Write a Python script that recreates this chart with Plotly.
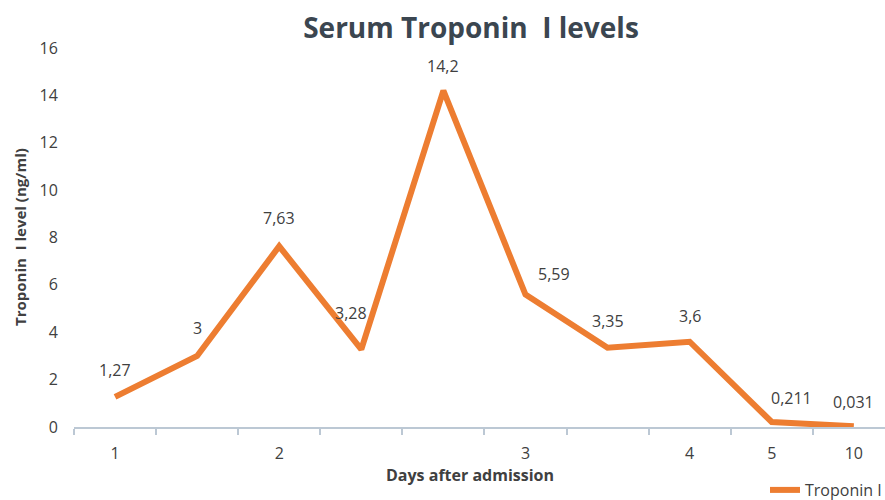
import plotly.graph_objects as go

categories = ["1", "", "2", "", "", "3", "", "4", "5", "10"]
values = [1.27, 3, 7.63, 3.28, 14.2, 5.59, 3.35, 3.6, 0.211, 0.031]
value_labels = ["1,27", "3", "7,63", "3,28", "14,2", "5,59", "3,35", "3,6", "0,211", "0,031"]
label_dx = [0, 0, 0, -10, 0, 29, 0, 0, 20, 0]
label_dy = [27, 28, 28, 36, 25, 21, 27, 26, 24, 24]
y_ticks = [0, 2, 4, 6, 8, 10, 12, 14, 16]

FONT = "Open Sans"
TXT = "#404040"
ORANGE = "#ED7D31"

xpos = list(range(len(values)))
tick_idx = [i for i, c in enumerate(categories) if c]
tick_txt = [categories[i] for i in tick_idx]

fig = go.Figure()
fig.add_trace(go.Scatter(
    x=xpos, y=values, mode="lines", name="Troponin I",
    line=dict(color=ORANGE, width=6),
))

for xi, v, t, dx, dy in zip(xpos, values, value_labels, label_dx, label_dy):
    fig.add_annotation(x=xi, y=v, text=t, showarrow=False, xshift=dx, yshift=dy,
                       font=dict(family=FONT, size=16, color=TXT))

fig.add_annotation(xref="paper", yref="paper", x=(20 - 74) / 811, y=(427 - 237) / 379,
                   xanchor="center", yanchor="middle",
                   text="<b>Troponin  I level (ng/ml)</b>", textangle=-90, showarrow=False,
                   font=dict(family=FONT, size=15, color=TXT))
fig.add_annotation(xref="paper", yref="paper", x=(470 - 74) / 811, y=-(475 - 427) / 379,
                   xanchor="center", yanchor="middle",
                   text="<b>Days after admission</b>", showarrow=False,
                   font=dict(family=FONT, size=16, color=TXT))

fig.update_layout(
    width=885, height=500,
    margin=dict(l=74, r=0, t=48, b=73, autoexpand=False),
    paper_bgcolor="white", plot_bgcolor="white",
    title=dict(text="<b>Serum Troponin  I levels</b>", x=471 / 885, xanchor="center",
               y=1 - 28 / 500, yanchor="middle", xref="container", yref="container",
               font=dict(family=FONT, size=28, color="#3b4650")),
    showlegend=True,
    legend=dict(orientation="h", x=(765 - 74) / 811, xanchor="left",
                y=-(490 - 427) / 379, yanchor="middle",
                font=dict(family=FONT, size=16, color=TXT), bgcolor="rgba(0,0,0,0)"),
    xaxis=dict(range=[-0.5, 9.38], tickvals=tick_idx, ticktext=tick_txt,
               ticks="", showgrid=False, zeroline=False,
               showline=True, linecolor="#bcc8d4", linewidth=1.5,
               ticklabelstandoff=11,
               tickfont=dict(family=FONT, size=16, color=TXT),
               minor=dict(tickvals=[i - 0.5 for i in range(len(values) + 1)],
                          ticks="outside", ticklen=6, tickcolor="#bcc8d4", tickwidth=1.5,
                          showgrid=False)),
    yaxis=dict(range=[0, 16], tickvals=y_ticks, showgrid=False, zeroline=False,
               showline=False, ticks="outside", ticklen=12, tickcolor="rgba(0,0,0,0)",
               tickfont=dict(family=FONT, size=16, color=TXT)),
)

fig.write_html("out.html", config={"displayModeBar": False},
               post_script="document.body.style.margin='0';")
